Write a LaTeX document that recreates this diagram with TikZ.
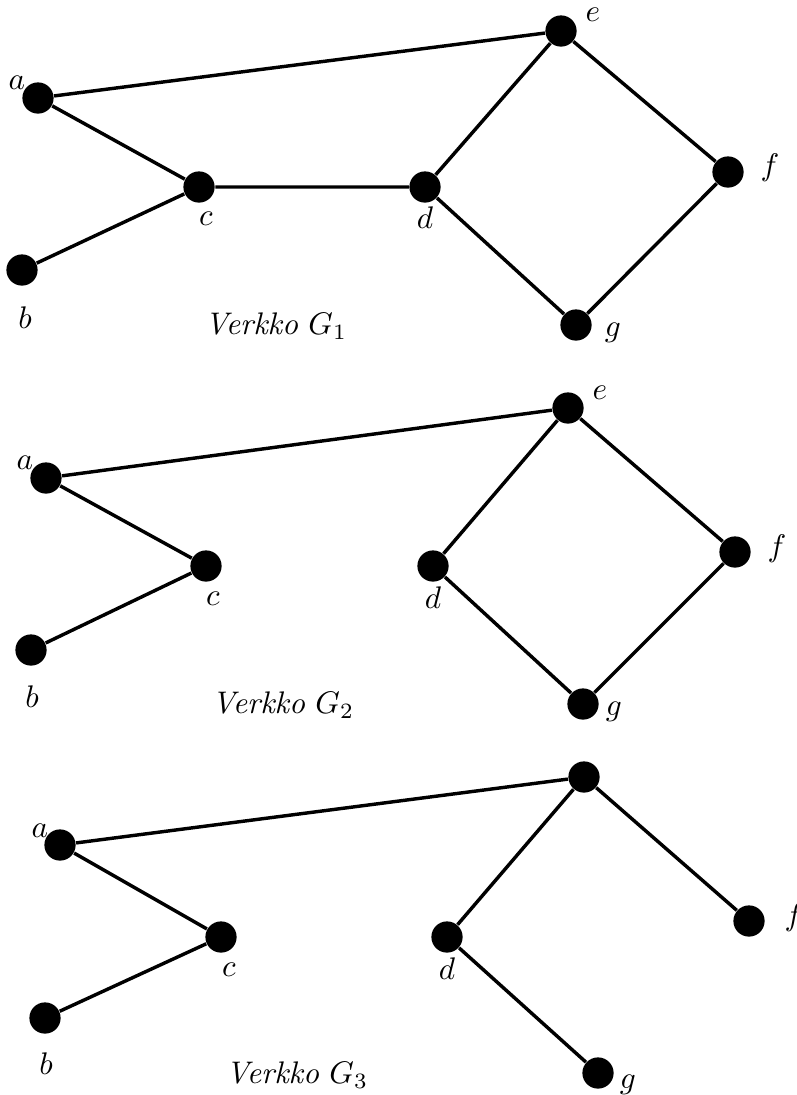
\documentclass[tikz,border=0pt]{standalone}
\begin{document}
\begin{tikzpicture}[x=0.32pt,y=-0.32pt,
  vertex/.style={circle,fill=black,inner sep=0pt,minimum size=10pt},
  edge/.style={line width=1.1pt},
  lbl/.style={inner sep=0pt}]
\useasboundingbox (0,0) rectangle (797,1095);
% Graph G1
\node[vertex] (a1) at (38,98) {};
\node[vertex] (b1) at (22,270) {};
\node[vertex] (c1) at (199,187) {};
\node[vertex] (d1) at (425,187) {};
\node[vertex] (e1) at (561,31) {};
\node[vertex] (f1) at (728,172) {};
\node[vertex] (g1) at (576,325) {};
\draw[edge] (a1) -- (e1) (a1) -- (c1) (b1) -- (c1) (c1) -- (d1)
  (d1) -- (e1) (e1) -- (f1) (f1) -- (g1) (g1) -- (d1);
\node[lbl] (la1) at (17,83) {$a$};
\node[lbl] (lb1) at (25,318) {$b$};
\node[lbl] (lc1) at (206,219) {$c$};
\node[lbl] (ld1) at (425,218) {$d$};
\node[lbl] (le1) at (593,15) {$e$};
\node[lbl] (lf1) at (770,168) {$f$};
\node[lbl] (lg1) at (613,333) {$g$};
\node[lbl] (t1) at (276,326) {\textit{Verkko} $G_1$};
% Graph G2
\node[vertex] (a2) at (46,478) {};
\node[vertex] (b2) at (31,650) {};
\node[vertex] (c2) at (206,566) {};
\node[vertex] (d2) at (433,566) {};
\node[vertex] (e2) at (568,408) {};
\node[vertex] (f2) at (735,552) {};
\node[vertex] (g2) at (583,704) {};
\draw[edge] (a2) -- (e2) (a2) -- (c2) (b2) -- (c2)
  (d2) -- (e2) (e2) -- (f2) (f2) -- (g2) (g2) -- (d2);
\node[lbl] (la2) at (25,463) {$a$};
\node[lbl] (lb2) at (32,697) {$b$};
\node[lbl] (lc2) at (213,599) {$c$};
\node[lbl] (ld2) at (433,598) {$d$};
\node[lbl] (le2) at (600,393) {$e$};
\node[lbl] (lf2) at (777,549) {$f$};
\node[lbl] (lg2) at (614,712) {$g$};
\node[lbl] (t2) at (283,705) {\textit{Verkko} $G_2$};
% Graph G3
\node[vertex] (a3) at (60,845) {};
\node[vertex] (b3) at (45,1018) {};
\node[vertex] (c3) at (221,937) {};
\node[vertex] (d3) at (447,937) {};
\node[vertex] (e3) at (584,777) {};
\node[vertex] (f3) at (749,921) {};
\node[vertex] (g3) at (598,1073) {};
\draw[edge] (a3) -- (e3) (a3) -- (c3) (b3) -- (c3)
  (d3) -- (e3) (e3) -- (f3) (g3) -- (d3);
\node[lbl] (la3) at (40,831) {$a$};
\node[lbl] (lb3) at (46,1064) {$b$};
\node[lbl] (lc3) at (229,970) {$c$};
\node[lbl] (ld3) at (447,969) {$d$};
\node[lbl] (lf3) at (794,918) {$f$};
\node[lbl] (lg3) at (628,1085) {$g$};
\node[lbl] (t3) at (297,1075) {\textit{Verkko} $G_3$};
\end{tikzpicture}
\end{document}
